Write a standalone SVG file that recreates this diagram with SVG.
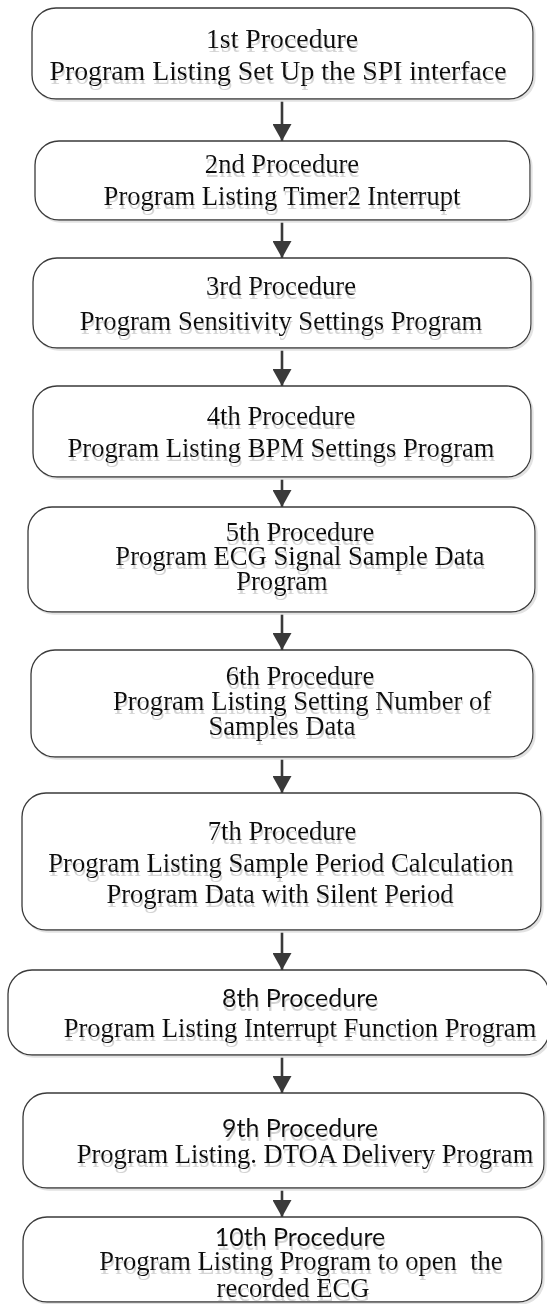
<svg xmlns="http://www.w3.org/2000/svg" width="547" height="1304" viewBox="0 0 547 1304">
<defs>
<style>
.box{fill:#fff;stroke:#3a3a3a;stroke-width:1.3;filter:url(#bs)}
.t{font-family:"Liberation Serif","Times New Roman",serif;font-size:26.6px;fill:#111;text-anchor:middle;filter:url(#ts)}
.big{font-size:27.8px}
.s{font-family:Lato,"Liberation Sans",sans-serif;font-size:25px;fill:#111;text-anchor:middle;filter:url(#ts)}
.arr{stroke:#3a3a3a;stroke-width:2.6;fill:none;marker-end:url(#ah)}
</style>
<filter id="bs" x="-2%" y="-5%" width="105%" height="115%">
<feOffset in="SourceAlpha" dx="2" dy="2" result="o"/>
<feFlood flood-color="#e2e2e2"/>
<feComposite in2="o" operator="in" result="s"/>
<feMerge><feMergeNode in="s"/><feMergeNode in="SourceGraphic"/></feMerge>
</filter>
<filter id="ts" x="-5%" y="-30%" width="110%" height="170%">
<feOffset in="SourceAlpha" dx="1" dy="4" result="o"/>
<feFlood flood-color="#d4d4d4"/>
<feComposite in2="o" operator="in" result="s"/>
<feMerge><feMergeNode in="s"/><feMergeNode in="SourceGraphic"/></feMerge>
</filter>
<marker id="ah" viewBox="0 0 17 19" refX="17" refY="9.5" markerWidth="17" markerHeight="19" markerUnits="userSpaceOnUse" orient="auto">
<path d="M0,0 L17,9.5 L0,19 z" fill="#3a3a3a"/>
</marker>
</defs>
<rect width="547" height="1304" fill="#fff"/>
<g id="connectors">
<line class="arr" x1="282" y1="99" x2="282" y2="141"/>
<line class="arr" x1="282" y1="220" x2="282" y2="258"/>
<line class="arr" x1="282" y1="348" x2="282" y2="386"/>
<line class="arr" x1="282" y1="477" x2="282" y2="507"/>
<line class="arr" x1="282" y1="612" x2="282" y2="650"/>
<line class="arr" x1="282" y1="757" x2="282" y2="793"/>
<line class="arr" x1="282" y1="930" x2="282" y2="970"/>
<line class="arr" x1="282" y1="1055" x2="282" y2="1093"/>
<line class="arr" x1="282" y1="1188" x2="282" y2="1217"/>
</g>
<g id="n1">
<rect class="box" x="32" y="8" width="501" height="91" rx="24"/>
<text class="t big" x="282" y="48">1st Procedure</text>
<text class="t big" x="278" y="80">Program Listing Set Up the SPI interface</text>
</g>
<g id="n2">
<rect class="box" x="35" y="141" width="495" height="79" rx="24"/>
<text class="t" x="282" y="173">2nd Procedure</text>
<text class="t" x="282" y="205">Program Listing Timer2 Interrupt</text>
</g>
<g id="n3">
<rect class="box" x="33" y="258" width="498" height="90" rx="24"/>
<text class="t" x="281" y="295">3rd Procedure</text>
<text class="t" x="281" y="330">Program Sensitivity Settings Program</text>
</g>
<g id="n4">
<rect class="box" x="33" y="386" width="498" height="91" rx="24"/>
<text class="t" x="281" y="425">4th Procedure</text>
<text class="t" x="281" y="457">Program Listing BPM Settings Program</text>
</g>
<g id="n5">
<rect class="box" x="28" y="507" width="507" height="105" rx="24"/>
<text class="t" x="300" y="541">5th Procedure</text>
<text class="t" x="300" y="565">Program ECG Signal Sample Data</text>
<text class="t" x="282" y="590">Program</text>
</g>
<g id="n6">
<rect class="box" x="31" y="650" width="502" height="107" rx="24"/>
<text class="t" x="300" y="685">6th Procedure</text>
<text class="t" x="302" y="710">Program Listing Setting Number of</text>
<text class="t" x="282" y="735">Samples Data</text>
</g>
<g id="n7">
<rect class="box" x="22" y="793" width="519" height="137" rx="24"/>
<text class="t" x="282" y="840">7th Procedure</text>
<text class="t" x="281" y="872">Program Listing Sample Period Calculation</text>
<text class="t" x="280" y="903">Program Data with Silent Period</text>
</g>
<g id="n8">
<rect class="box" x="8" y="970" width="541" height="85" rx="24"/>
<text class="s" x="300" y="1007">8th Procedure</text>
<text class="t" x="300" y="1037">Program Listing Interrupt Function Program</text>
</g>
<g id="n9">
<rect class="box" x="23" y="1093" width="521" height="95" rx="24"/>
<text class="s" x="300" y="1137">9th Procedure</text>
<text class="t" x="305" y="1163">Program Listing. DTOA Delivery Program</text>
</g>
<g id="n10">
<rect class="box" x="23" y="1217" width="519" height="85" rx="24"/>
<text class="s" x="300" y="1246">10th Procedure</text>
<text class="t" x="301" y="1270" style="white-space:pre">Program Listing Program to open  the</text>
<text class="t" x="293" y="1297">recorded ECG</text>
</g>
</svg>
